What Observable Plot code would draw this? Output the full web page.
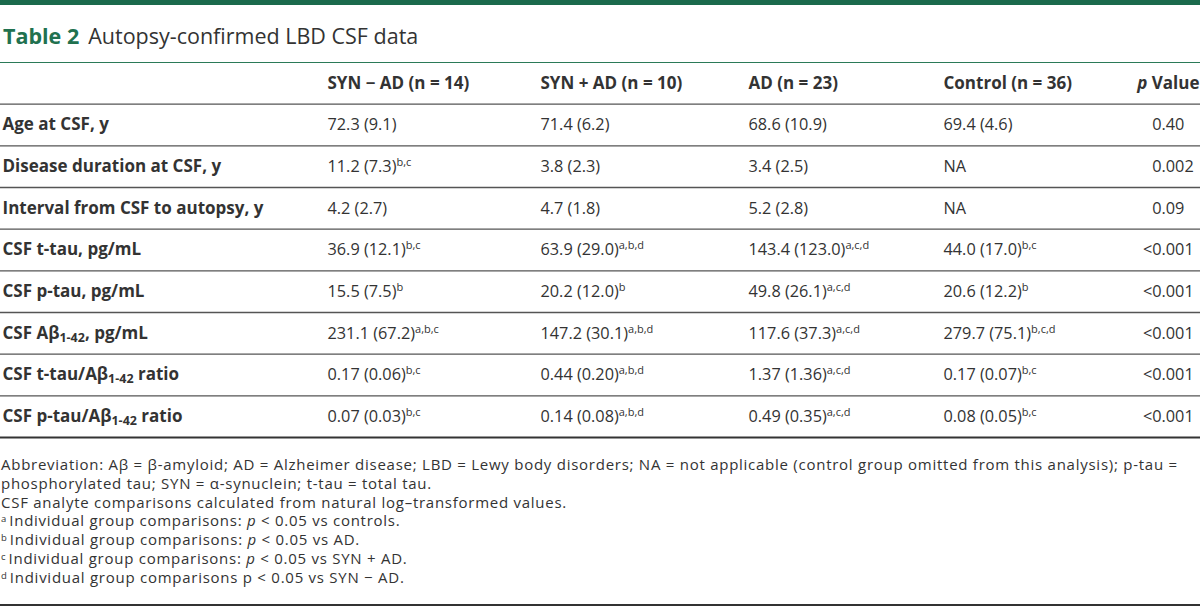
<!DOCTYPE html>
<html>
<head>
<meta charset="utf-8">
<script src="https://cdn.jsdelivr.net/npm/d3@7"></script>
<script src="https://cdn.jsdelivr.net/npm/@observablehq/plot@0.6"></script>
<style>
html,body{margin:0;padding:0;background:#fff;}
body{width:1200px;height:608px;position:relative;overflow:hidden;font-family:"Open Sans",sans-serif;color:#333;}
#bar{position:absolute;left:0;top:0;width:1200px;height:5px;background:#1b6a4c;}
#title{position:absolute;left:3px;top:23px;font-size:21.5px;line-height:26px;white-space:nowrap;color:#333;}
#title b{color:#21714f;font-weight:700;margin-right:9px;}
#chart{position:absolute;left:0;top:61px;}
#notes{position:absolute;left:1px;top:455px;font-size:15px;letter-spacing:0.74px;line-height:18.8px;white-space:nowrap;color:#333;}
#notes .ln{height:18.8px;}
#notes sup{font-size:9.5px;letter-spacing:0;vertical-align:baseline;position:relative;top:-4px;line-height:0;margin-right:3px;}
#bottom{position:absolute;left:0;top:604px;width:1200px;height:2px;background:#333;}
</style>
</head>
<body>
<div id="bar"></div>
<div id="title"></div>
<div id="chart"></div>
<div id="notes"></div>
<div id="bottom"></div>
<script>
// ---------- data ----------
const tableNumber = "Table 2";
const tableTitle = "Autopsy-confirmed LBD CSF data";
const groups = ["SYN − AD (n = 14)", "SYN + AD (n = 10)", "AD (n = 23)", "Control (n = 36)"];
const pHeader = "*{p} Value";
const variables = [
  "Age at CSF, y",
  "Disease duration at CSF, y",
  "Interval from CSF to autopsy, y",
  "CSF t-tau, pg/mL",
  "CSF p-tau, pg/mL",
  "CSF Aβ_{1-42}, pg/mL",
  "CSF t-tau/Aβ_{1-42} ratio",
  "CSF p-tau/Aβ_{1-42} ratio"
];
const synMinusAD = ["72.3 (9.1)", "11.2 (7.3)^{b,c}", "4.2 (2.7)", "36.9 (12.1)^{b,c}", "15.5 (7.5)^{b}", "231.1 (67.2)^{a,b,c}", "0.17 (0.06)^{b,c}", "0.07 (0.03)^{b,c}"];
const synPlusAD = ["71.4 (6.2)", "3.8 (2.3)", "4.7 (1.8)", "63.9 (29.0)^{a,b,d}", "20.2 (12.0)^{b}", "147.2 (30.1)^{a,b,d}", "0.44 (0.20)^{a,b,d}", "0.14 (0.08)^{a,b,d}"];
const adOnly = ["68.6 (10.9)", "3.4 (2.5)", "5.2 (2.8)", "143.4 (123.0)^{a,c,d}", "49.8 (26.1)^{a,c,d}", "117.6 (37.3)^{a,c,d}", "1.37 (1.36)^{a,c,d}", "0.49 (0.35)^{a,c,d}"];
const control = ["69.4 (4.6)", "NA", "NA", "44.0 (17.0)^{b,c}", "20.6 (12.2)^{b}", "279.7 (75.1)^{b,c,d}", "0.17 (0.07)^{b,c}", "0.08 (0.05)^{b,c}"];
const pValues = ["0.40", "0.002", "0.09", "<0.001", "<0.001", "<0.001", "<0.001", "<0.001"];
const footnotes = [
  "Abbreviation: Aβ = β-amyloid; AD = Alzheimer disease; LBD = Lewy body disorders; NA = not applicable (control group omitted from this analysis); p-tau =",
  "phosphorylated tau; SYN = α-synuclein; t-tau = total tau.",
  "CSF analyte comparisons calculated from natural log–transformed values.",
  "^{a}Individual group comparisons: *{p} < 0.05 vs controls.",
  "^{b}Individual group comparisons: *{p} < 0.05 vs AD.",
  "^{c}Individual group comparisons: *{p} < 0.05 vs SYN + AD.",
  "^{d}Individual group comparisons p < 0.05 vs SYN − AD."
];

// ---------- layout (not data) ----------
const columnX = [2, 327, 540, 748, 943];
const pDecimalX = 1161;
const pHeaderRight = 1199;
const fontSize = 16.3;
const boldSize = 17;

// ---------- title & notes ----------
function toHTML(s) {
  return s.replace(/\^\{([^}]*)\}/g, "<sup>$1</sup>")
          .replace(/_\{([^}]*)\}/g, "<sub>$1</sub>")
          .replace(/\*\{([^}]*)\}/g, "<i>$1</i>");
}
document.getElementById("title").innerHTML = `<b>${tableNumber}</b>${tableTitle}`;
document.getElementById("notes").innerHTML = footnotes.map(f => `<div class="ln">${toHTML(f)}</div>`).join("");

// ---------- table cells ----------
const valueColumns = [synMinusAD, synPlusAD, adOnly, control];
const headerCells = groups.map((g, j) => ({row: 0, col: j + 1, text: g}));
const labelCells = variables.map((v, i) => ({row: i + 1, col: 0, text: v}));
const valueCells = valueColumns.flatMap((col, j) => col.map((v, i) => ({row: i + 1, col: j + 1, text: v})));
const pCells = pValues.map((p, i) => {
  const k = p.indexOf(".");
  return {row: i + 1, intPart: p.slice(0, k), fracPart: p.slice(k)};
});
const nRows = variables.length + 1;

const chart = Plot.plot({
  width: 1200,
  height: 380,
  margin: 0,
  style: {fontFamily: "'Open Sans', sans-serif", color: "#333", background: "transparent", overflow: "visible"},
  x: {type: "linear", domain: [0, 1200], range: [0, 1200], axis: null},
  y: {type: "linear", domain: [0, nRows], range: [1, 376], axis: null},
  marks: [
    Plot.ruleY([0], {stroke: "#2b7a58", strokeWidth: 1.2}),
    Plot.ruleY(d3.range(1, nRows), {stroke: "#555", strokeWidth: 1.3}),
    Plot.ruleY([nRows], {stroke: "#333", strokeWidth: 1.8}),
    Plot.text(headerCells, {x: d => columnX[d.col], y: d => d.row + 0.5, text: "text", textAnchor: "start", lineAnchor: "middle", fontSize: boldSize, fontWeight: "bold", fill: "#333"}),
    Plot.text([pHeader], {x: () => pHeaderRight, y: () => 0.5, text: d => d, textAnchor: "end", lineAnchor: "middle", fontSize: boldSize, fontWeight: "bold", fill: "#333"}),
    Plot.text(labelCells, {x: d => columnX[d.col], y: d => d.row + 0.5, text: "text", textAnchor: "start", lineAnchor: "middle", fontSize: boldSize, fontWeight: "bold", fill: "#333"}),
    Plot.text(valueCells, {x: d => columnX[d.col], y: d => d.row + 0.5, text: "text", textAnchor: "start", lineAnchor: "middle", fontSize, fill: "#333"}),
    Plot.text(pCells, {x: () => pDecimalX, y: d => d.row + 0.5, text: "intPart", textAnchor: "end", lineAnchor: "middle", fontSize, fill: "#333"}),
    Plot.text(pCells, {x: () => pDecimalX, y: d => d.row + 0.5, text: "fracPart", textAnchor: "start", lineAnchor: "middle", fontSize, fill: "#333"})
  ]
});

// rich-text markup -> tspans
d3.select(chart).selectAll("text").each(function() {
  const el = this;
  const s = el.textContent;
  if (!/[\^_*]\{/.test(s)) return;
  const parts = s.split(/(\^\{[^}]*\}|_\{[^}]*\}|\*\{[^}]*\})/).filter(p => p !== "");
  while (el.firstChild) el.removeChild(el.firstChild);
  let shift = 0;
  for (const p of parts) {
    const t = document.createElementNS("http://www.w3.org/2000/svg", "tspan");
    let m;
    if ((m = p.match(/^\^\{([^}]*)\}$/))) {
      t.textContent = m[1];
      t.setAttribute("font-size", 11);
      t.setAttribute("font-weight", "normal");
      t.setAttribute("dy", -6 - shift); shift = -6;
    } else if ((m = p.match(/^_\{([^}]*)\}$/))) {
      t.textContent = m[1];
      t.setAttribute("font-size", 12.5);
      t.setAttribute("dy", 3 - shift); shift = 3;
    } else if ((m = p.match(/^\*\{([^}]*)\}$/))) {
      t.textContent = m[1];
      t.setAttribute("font-style", "italic");
      if (shift) t.setAttribute("dy", -shift); shift = 0;
    } else {
      t.textContent = p;
      if (shift) t.setAttribute("dy", -shift); shift = 0;
    }
    el.appendChild(t);
  }
});

document.getElementById("chart").appendChild(chart);
</script>
</body>
</html>
